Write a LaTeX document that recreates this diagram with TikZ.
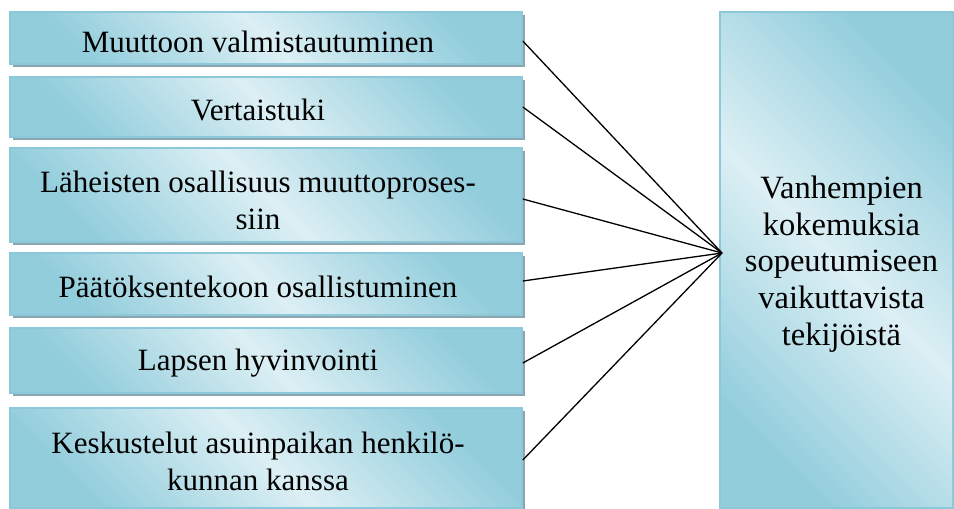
\documentclass[tikz,border=0pt]{standalone}
\usepackage{fontspec}
\setmainfont{Liberation Serif}
\usetikzlibrary{shadows}
\definecolor{aquadark}{RGB}{146,205,220}
\definecolor{aqualight}{RGB}{220,239,244}
\definecolor{aquaedge}{RGB}{140,200,218}
\definecolor{shadowc}{RGB}{140,166,176}
\tikzset{
  factor/.style={rectangle, draw=aquaedge, line width=1.6pt,
    top color=aquadark, bottom color=aquadark, middle color=aqualight, shading angle=-45,
    drop shadow={shadow xshift=3pt, shadow yshift=-3pt, fill=shadowc, opacity=1},
    inner sep=0pt},
  factortext/.style={align=center, inner sep=0pt, font=\rmfamily\fontsize{31}{36.8}\selectfont},
  goaltext/.style={align=center, inner sep=0pt, font=\rmfamily\fontsize{32.5}{36.8}\selectfont},
  link/.style={draw=black, line width=1.3pt}
}
\begin{document}
\begin{tikzpicture}[x=1pt,y=1pt]
\useasboundingbox (0,0) rectangle (954,-509);
\node[factor, minimum width=512pt, minimum height=52pt] (b1) at (266,-38) {};
\node[factor, minimum width=512pt, minimum height=60pt] (b2) at (266,-107) {};
\node[factor, minimum width=512pt, minimum height=94pt] (b3) at (266,-195) {};
\node[factor, minimum width=512pt, minimum height=62pt] (b4) at (266,-284) {};
\node[factor, minimum width=512pt, minimum height=65pt] (b5) at (266,-360.5) {};
\node[factor, minimum width=512pt, minimum height=100pt] (b6) at (266,-458) {};
\node[factor, minimum width=233pt, minimum height=496pt] (goal) at (836.5,-260) {};
\node[factortext] (t1) at ([xshift=-8pt,yshift=-4pt]b1.center) {Muuttoon valmistautuminen};
\node[factortext] (t2) at ([xshift=-8pt,yshift=-3pt]b2.center) {Vertaistuki};
\node[factortext] (t3) at ([xshift=-8pt,yshift=-5pt]b3.center) {Läheisten osallisuus muuttoproses-\\siin};
\node[factortext] (t4) at ([xshift=-8pt,yshift=-3pt]b4.center) {Päätöksentekoon osallistuminen};
\node[factortext] (t5) at ([xshift=-8pt,yshift=-3pt]b5.center) {Lapsen hyvinvointi};
\node[factortext] (t6) at ([xshift=-8pt,yshift=-3pt]b6.center) {Keskustelut asuinpaikan henkilö-\\kunnan kanssa};
\node[goaltext] (tg) at ([xshift=5pt,yshift=-4pt]goal.center) {Vanhempien\\kokemuksia\\sopeutumiseen\\vaikuttavista\\tekijöistä};
\coordinate (hub) at (722,-253);
\draw[link] ([yshift=-3pt]b1.east) -- (hub);
\draw[link] (b2.east) -- (hub);
\draw[link] ([yshift=-4pt]b3.east) -- (hub);
\draw[link] ([yshift=3pt]b4.east) -- (hub);
\draw[link] ([yshift=-2.5pt]b5.east) -- (hub);
\draw[link] ([yshift=-2pt]b6.east) -- (hub);
\end{tikzpicture}
\end{document}
